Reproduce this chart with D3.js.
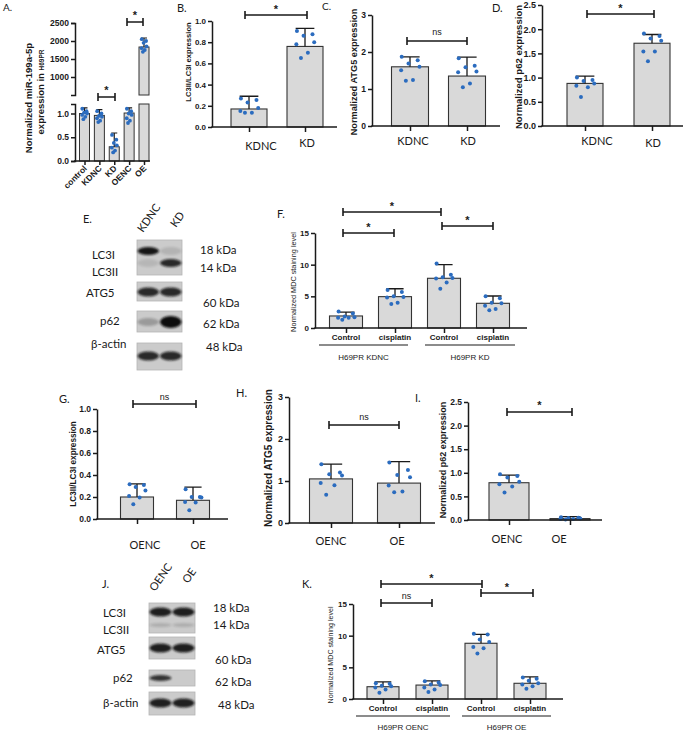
<!DOCTYPE html>
<html><head><meta charset="utf-8">
<script src="https://cdn.jsdelivr.net/npm/d3@7"></script>
<style>body{margin:0;background:#fff}svg{display:block}</style>
</head><body>
<svg id="fig" width="685" height="732"></svg>
<script>
// ---------------- DATA ----------------
// Panel A (broken axis)
const aCats = ["control","KDNC","KD","OENC","OE"];
const aMean = [1.00, 0.96, 0.30, 1.01, 1833];
const aSD = [0.12, 0.12, 0.29, 0.11, 250];
const aPts = [[1.10,1.05,1.02,1.00,0.97,0.93,0.88],[1.05,1.00,0.95,0.93,0.90,0.85,0.82],[0.55,0.45,0.38,0.33,0.28,0.22,0.18],[1.10,1.05,1.00,0.97,0.90,0.85,0.80],[2050,2000,1950,1850,1800,1750,1700]];
const aTicksLow = [0, 0.5, 1.0];
const aTicksHigh = [1000, 1500, 2000, 2500];
const aSig = ["*","*"];
// Panel B
const bCats = ["KDNC","KD"];
const bMean = [0.17, 0.76];
const bSD = [0.12, 0.17];
const bPts = [[0.27,0.255,0.23,0.18,0.15,0.135,0.135],[0.905,0.875,0.86,0.80,0.78,0.70,0.65]];
const bTicks = [0,0.2,0.4,0.6,0.8,1.0];
// Panel C
const cCats = ["KDNC","KD"];
const cMean = [1.60, 1.35];
const cSD = [0.27, 0.51];
const cPts = [[1.87,1.78,1.69,1.60,1.51,1.24,1.22],[1.83,1.63,1.59,1.47,1.45,1.15,1.05]];
const cTicks = [0,1,2,3];
// Panel D
const dCats = ["KDNC","KD"];
const dMean = [0.88, 1.71];
const dSD = [0.15, 0.18];
const dPts = [[1.00,0.95,0.93,0.88,0.83,0.80,0.60],[1.91,1.86,1.81,1.76,1.54,1.54,1.34]];
const dTicks = [0,0.5,1.0,1.5,2.0,2.5];
// Panel E (western blot band intensities, lanes KDNC / KD)
const eLanes = ["KDNC","KD"];
const eLC3I = [0.95, 0.12];
const eLC3II = [0.10, 0.85];
const eATG5 = [0.85, 0.85];
const eP62 = [0.25, 1.0];
const eActin = [0.85, 0.85];
const eRowLabels = ["LC3I","LC3II","ATG5","p62","β-actin"];
const eKda = ["18 kDa","14 kDa","60 kDa","62 kDa","48 kDa"];
// Panel F
const fCats = ["Control","cisplatin","Control","cisplatin"];
const fGroups = ["H69PR KDNC","H69PR KD"];
const fMean = [1.9, 4.95, 7.85, 3.9];
const fSD = [0.6, 1.25, 2.15, 1.15];
const fPts = [[2.6,2.3,1.8,1.7,1.6,1.6,1.3],[6.0,5.7,5.0,4.9,4.8,4.0,3.8],[10.2,8.4,8.0,7.9,7.8,7.2,6.2],[5.0,4.7,4.0,3.9,3.5,3.0,2.8]];
const fTicks = [0,5,10,15];
// Panel G
const gCats = ["OENC","OE"];
const gMean = [0.20, 0.17];
const gSD = [0.12, 0.12];
const gPts = [[0.315,0.31,0.29,0.26,0.21,0.195,0.135],[0.27,0.20,0.20,0.195,0.155,0.15,0.08]];
const gTicks = [0,0.2,0.4,0.6,0.8,1.0];
// Panel H
const hCats = ["OENC","OE"];
const hMean = [1.05, 0.95];
const hSD = [0.35, 0.51];
const hPts = [[1.40,1.20,1.16,1.13,0.95,0.90,0.67],[1.44,1.26,1.14,1.09,0.89,0.75,0.73]];
const hTicks = [0,1,2,3];
// Panel I
const iCats = ["OENC","OE"];
const iMean = [0.79, 0.03];
const iSD = [0.16, 0.04];
const iPts = [[0.97,0.93,0.90,0.81,0.76,0.71,0.58],[0.06,0.05,0.04,0.03,0.02,0.02,0.01]];
const iTicks = [0,0.5,1.0,1.5,2.0,2.5];
// Panel J (western blot, lanes OENC / OE)
const jLanes = ["OENC","OE"];
const jLC3I = [0.9, 0.9];
const jLC3II = [0.15, 0.15];
const jATG5 = [0.9, 0.9];
const jP62 = [0.8, 0.0];
const jActin = [0.9, 0.9];
// Panel K
const kCats = ["Control","cisplatin","Control","cisplatin"];
const kGroups = ["H69PR OENC","H69PR OE"];
const kMean = [1.94, 2.2, 8.8, 2.48];
const kSD = [0.76, 0.65, 1.4, 1.02];
const kPts = [[2.5,2.4,2.1,2.0,1.8,1.5,1.0],[2.8,2.6,2.3,2.2,1.8,1.5,1.1],[10.3,10.2,9.4,9.0,8.2,8.0,7.2],[3.4,3.2,2.9,2.5,2.3,2.0,1.6]];
const kTicks = [0,5,10,15];

// ---------------- STYLE ----------------
const ARIAL = "'Liberation Sans', Arial, sans-serif";
const CALI = "Lato, 'Open Sans', sans-serif";
const BAR_FILL = "#d9d9d9", BAR_STROKE = "#333", DOT = "#2b6cbf", INK = "#1a1a1a";
const JIT = [-0.28, 0.26, -0.05, 0.32, -0.3, 0.1, -0.14, 0.2];

const svg = d3.select("#fig");
const defs = svg.append("defs");
defs.append("filter").attr("id","blur").attr("x","-50%").attr("y","-80%").attr("width","200%").attr("height","260%")
  .append("feGaussianBlur").attr("stdDeviation", 1.3);

function txt(g, x, y, s, size, opt = {}) {
  return g.append("text").attr("x", x).attr("y", y).text(s)
    .attr("font-family", opt.family || ARIAL).attr("font-size", size)
    .attr("font-weight", opt.weight || "normal").attr("fill", opt.fill || INK)
    .attr("text-anchor", opt.anchor || "start");
}
function vlabel(g, x, cy, s, size, weight) {
  return g.append("text").attr("transform", `translate(${x},${cy}) rotate(-90)`)
    .attr("text-anchor", "middle").attr("font-family", ARIAL).attr("font-size", size)
    .attr("font-weight", weight).attr("fill", INK).text(s);
}
function bracket(g, x1, x2, y, label, ty) {
  g.append("path").attr("d", `M${x1},${y-4}V${y+4}M${x1},${y}H${x2}M${x2},${y-4}V${y+4}`)
    .attr("stroke", INK).attr("stroke-width", 1.6).attr("fill", "none");
  const star = label === "*";
  txt(g, (x1 + x2) / 2, ty, label, star ? 11 : 9, {anchor: "middle", weight: star ? "bold" : "normal"});
}
function styleAxis(sel, fs) {
  sel.selectAll("path,line").attr("stroke", INK).attr("stroke-width", 1.5);
  sel.selectAll("text").attr("font-family", ARIAL).attr("font-size", fs).attr("font-weight", "bold").attr("fill", INK);
}
function drawGroups(g, x, means, sds, pts, y, bw, y0) {
  g.selectAll(null).data(means).join("rect")
    .attr("x", (d, i) => x(i) - bw / 2).attr("y", d => y(d)).attr("width", bw)
    .attr("height", d => Math.max(0.5, y0 - y(d)))
    .attr("fill", BAR_FILL).attr("stroke", BAR_STROKE).attr("stroke-width", 1.1);
  const cw = bw * 0.26;
  means.forEach((m, i) => {
    const top = y(m + sds[i]);
    g.append("path").attr("d", `M${x(i)},${y(m)}V${top}M${x(i)-cw},${top}H${x(i)+cw}`)
      .attr("stroke", INK).attr("stroke-width", 1.3).attr("fill", "none");
  });
  pts.forEach((arr, i) => {
    g.selectAll(null).data(arr).join("circle")
      .attr("cx", (d, k) => x(i) + JIT[k % JIT.length] * bw * 0.8).attr("cy", d => y(d))
      .attr("r", 2).attr("fill", DOT);
  });
}

function barPanel(p) {
  const g = svg.append("g");
  const y = d3.scaleLinear().domain([0, p.ymax]).range([p.y0, p.y1]);
  const x = d3.scalePoint().domain(d3.range(p.cats.length)).range([p.c0, p.c1]);
  drawGroups(g, x, p.mean, p.sd, p.pts, y, p.bw, p.y0);
  const ya = g.append("g").attr("transform", `translate(${p.ax},0)`)
    .call(d3.axisLeft(y).tickValues(p.ticks).tickFormat(d3.format(p.fmt)).tickSize(4).tickSizeOuter(0).tickPadding(2));
  styleAxis(ya, p.tfs);
  const xa = g.append("g").attr("transform", `translate(0,${p.y0})`)
    .call(d3.axisBottom(x).tickSize(5).tickFormat(""));
  xa.select(".domain").remove();
  styleAxis(xa, p.tfs);
  g.append("line").attr("x1", p.ax - 0.75).attr("x2", p.xEnd).attr("y1", p.y0).attr("y2", p.y0)
    .attr("stroke", INK).attr("stroke-width", 1.6);
  if (p.labX) {
    p.cats.forEach((c, i) => txt(g, p.labX[i], p.labY[i], c, 11, {family: CALI, anchor: "middle"}));
  } else {
    p.cats.forEach((c, i) => txt(g, x(i), p.labY, c, 8, {anchor: "middle", weight: "bold"}));
    p.groups.forEach((gname, j) => {
      const [a, b] = p.gLines[j];
      g.append("line").attr("x1", a).attr("x2", b).attr("y1", p.gY).attr("y2", p.gY)
        .attr("stroke", INK).attr("stroke-width", 1.2);
      txt(g, (a + b) / 2, p.gTextY, gname, 8, {anchor: "middle"});
    });
  }
  vlabel(g, p.ylx, p.ylcy, p.ylab, p.ylfs, p.ylw);
  p.br.forEach(b => bracket(g, b[0], b[1], b[2], b[3], b[4]));
  txt(g, p.letter[1], p.letter[2], p.letter[0], p.letter[3] || 11, {family: CALI});
  return g;
}

// ---------------- PANEL A (broken y axis) ----------------
(function () {
  const g = svg.append("g");
  const yLo = d3.scaleLinear().domain([0, 1.2]).range([161, 104]);
  const yHi = d3.scaleLinear().domain([500, 2500]).range([95, 23]);
  const x = d3.scalePoint().domain(d3.range(aCats.length)).range([84.5, 144]);
  const bw = 10;
  const yv = v => (v > 1.2 ? yHi(v) : yLo(v));
  aMean.forEach((m, i) => {
    if (m <= 1.2) {
      g.append("rect").attr("x", x(i) - bw / 2).attr("y", yLo(m)).attr("width", bw).attr("height", 161 - yLo(m))
        .attr("fill", BAR_FILL).attr("stroke", BAR_STROKE).attr("stroke-width", 1);
    } else {
      g.append("rect").attr("x", x(i) - bw / 2).attr("y", yLo(1.2)).attr("width", bw).attr("height", 161 - yLo(1.2))
        .attr("fill", BAR_FILL).attr("stroke", BAR_STROKE).attr("stroke-width", 1);
      g.append("rect").attr("x", x(i) - bw / 2).attr("y", yHi(m)).attr("width", bw).attr("height", yHi(500) - yHi(m))
        .attr("fill", BAR_FILL).attr("stroke", BAR_STROKE).attr("stroke-width", 1);
    }
    const top = yv(m + aSD[i]);
    g.append("path").attr("d", `M${x(i)},${yv(m)}V${top}M${x(i)-3},${top}H${x(i)+3}`)
      .attr("stroke", INK).attr("stroke-width", 1.2).attr("fill", "none");
  });
  aPts.forEach((arr, i) => {
    g.selectAll(null).data(arr).join("circle")
      .attr("cx", (d, k) => x(i) + JIT[k] * bw * 0.8).attr("cy", d => yv(d)).attr("r", 1.9).attr("fill", DOT);
  });
  const lo = g.append("g").attr("transform", "translate(75,0)")
    .call(d3.axisLeft(yLo).tickValues(aTicksLow).tickFormat(d3.format(".1f")).tickSize(4).tickSizeOuter(4).tickPadding(2));
  styleAxis(lo, 8.5);
  const hi = g.append("g").attr("transform", "translate(75,0)")
    .call(d3.axisLeft(yHi).tickValues(aTicksHigh).tickFormat(d3.format("d")).tickSize(4).tickSizeOuter(4).tickPadding(2));
  styleAxis(hi, 8.5);
  const xa = g.append("g").attr("transform", "translate(0,161)").call(d3.axisBottom(x).tickSize(4).tickFormat(""));
  xa.select(".domain").remove();
  styleAxis(xa, 8);
  g.append("line").attr("x1", 74).attr("x2", 150).attr("y1", 161).attr("y2", 161).attr("stroke", INK).attr("stroke-width", 1.6);
  aCats.forEach((c, i) => {
    g.append("text").attr("transform", `translate(${x(i) + 3},${169}) rotate(-45)`).attr("text-anchor", "end")
      .attr("font-family", ARIAL).attr("font-size", 8.5).attr("font-weight", "bold").attr("fill", INK).text(c);
  });
  vlabel(g, 31.5, 98, "Normalized miR-199a-5p", 9.5, "bold");
  const t2 = g.append("text").attr("transform", "translate(43.5,92) rotate(-90)").attr("text-anchor", "middle")
    .attr("font-family", ARIAL).attr("font-size", 9.5).attr("font-weight", "bold").attr("fill", INK);
  t2.append("tspan").text("expression in ");
  t2.append("tspan").attr("font-size", 6.5).text("H69PR");
  bracket(g, 98, 115, 97, aSig[0], 94);
  bracket(g, 127, 143, 22, aSig[1], 19);
  txt(g, 3, 11, "A.", 10, {family: CALI});
})();

// ---------------- BAR PANELS ----------------
barPanel({cats: bCats, mean: bMean, sd: bSD, pts: bPts, ymax: 1, y0: 127, y1: 21, ax: 212, xEnd: 337,
  c0: 249, c1: 305, bw: 36, ticks: bTicks, fmt: ".1f", tfs: 8, labX: [261, 307], labY: [150, 147],
  ylab: "LC3II/LC3I expression", ylx: 191, ylcy: 62, ylfs: 7.6, ylw: "bold",
  br: [[245, 307, 15, "*", 13]], letter: ["B.", 177, 12]});

barPanel({cats: cCats, mean: cMean, sd: cSD, pts: cPts, ymax: 3, y0: 126, y1: 15, ax: 372, xEnd: 500,
  c0: 410, c1: 467, bw: 37, ticks: cTicks, fmt: "d", tfs: 8.5, labX: [413, 468], labY: [145, 145],
  ylab: "Normalized ATG5 expression", ylx: 356.5, ylcy: 72, ylfs: 9.2, ylw: "bold",
  br: [[407, 467, 41, "ns", 35]], letter: ["C.", 322, 10, 10]});

barPanel({cats: dCats, mean: dMean, sd: dSD, pts: dPts, ymax: 2.5, y0: 126, y1: 5, ax: 542, xEnd: 683,
  c0: 585, c1: 652, bw: 36, ticks: dTicks, fmt: ".1f", tfs: 9, labX: [597, 653], labY: [145, 147],
  ylab: "Normalized p62 expression", ylx: 521.5, ylcy: 67, ylfs: 9.6, ylw: "bold",
  br: [[587, 654, 14, "*", 12]], letter: ["D.", 492, 12]});

barPanel({cats: fCats, groups: fGroups, mean: fMean, sd: fSD, pts: fPts, ymax: 15, y0: 328, y1: 233, ax: 315, xEnd: 527,
  c0: 346, c1: 493, bw: 33, ticks: fTicks, fmt: "d", tfs: 8, labY: 340, gY: 345, gTextY: 360,
  gLines: [[319, 408], [425, 515]],
  ylab: "Normalized MDC staining level", ylx: 295.5, ylcy: 282, ylfs: 7.3, ylw: "normal",
  br: [[343, 441, 212, "*", 210], [343, 394, 233, "*", 231], [442, 493, 226, "*", 224]], letter: ["F.", 277, 218]});

barPanel({cats: gCats, mean: gMean, sd: gSD, pts: gPts, ymax: 1, y0: 519, y1: 409, ax: 97, xEnd: 228,
  c0: 137, c1: 193, bw: 33, ticks: gTicks, fmt: ".1f", tfs: 8.5, labX: [145, 198], labY: [549, 549],
  ylab: "LC3II/LC3I expression", ylx: 76, ylcy: 464, ylfs: 8.2, ylw: "bold",
  br: [[133, 196, 404, "ns", 400]], letter: ["G.", 59, 403]});

barPanel({cats: hCats, mean: hMean, sd: hSD, pts: hPts, ymax: 3, y0: 523, y1: 397, ax: 289, xEnd: 435,
  c0: 331, c1: 399, bw: 43, ticks: hTicks, fmt: "d", tfs: 9, labX: [331, 397], labY: [545, 545],
  ylab: "Normalized ATG5 expression", ylx: 271.5, ylcy: 458, ylfs: 10, ylw: "bold",
  br: [[329, 399, 425, "ns", 420]], letter: ["H.", 236, 397]});

barPanel({cats: iCats, mean: iMean, sd: iSD, pts: iPts, ymax: 2.5, y0: 520, y1: 402, ax: 468, xEnd: 602,
  c0: 509, c1: 570, bw: 40, ticks: iTicks, fmt: ".1f", tfs: 8.5, labX: [507, 559], labY: [543, 543],
  ylab: "Normalized p62 expression", ylx: 445.5, ylcy: 460, ylfs: 9, ylw: "bold",
  br: [[507, 572, 412, "*", 409]], letter: ["I.", 415, 402]});

barPanel({cats: kCats, groups: kGroups, mean: kMean, sd: kSD, pts: kPts, ymax: 15, y0: 699, y1: 604, ax: 353, xEnd: 563,
  c0: 383, c1: 530, bw: 32, ticks: kTicks, fmt: "d", tfs: 8, labY: 711, gY: 716, gTextY: 730,
  gLines: [[356, 450], [462, 551]],
  ylab: "Normalized MDC staining level", ylx: 332.5, ylcy: 655, ylfs: 7.1, ylw: "normal",
  br: [[381, 482, 584, "*", 582], [381, 432, 603, "ns", 599], [481, 533, 593, "*", 591]], letter: ["K.", 302, 588]});

// ---------------- BLOTS ----------------
function blot(b) {
  const g = svg.append("g");
  const lx = d3.scalePoint().domain(d3.range(b.lanes.length)).range([b.x + b.w * 0.25, b.x + b.w * 0.75]);
  b.boxes.forEach(bx => {
    g.append("rect").attr("x", b.x).attr("y", bx.y).attr("width", b.w).attr("height", bx.h)
      .attr("fill", "#cbcbcb").attr("stroke", "#b5b5b5").attr("stroke-width", 0.8);
    bx.bands.forEach(bd => {
      bd.vals.forEach((v, i) => {
        if (v <= 0.02) return;
        g.append("ellipse").attr("cx", lx(i)).attr("cy", bd.cy).attr("rx", b.w * 0.24)
          .attr("ry", bd.ry * (bd.grow ? (0.6 + 0.5 * v) : 1)).attr("fill", "#111").attr("opacity", v)
          .attr("filter", "url(#blur)");
      });
    });
  });
  b.lanes.forEach((l, i) => {
    g.append("text").attr("transform", `translate(${b.laneXY[i][0]},${b.laneXY[i][1]}) rotate(-55)`)
      .attr("font-family", CALI).attr("font-size", 11).attr("fill", INK).text(l);
  });
  b.rowLab.forEach((r, i) => txt(g, r[0], r[1], eRowLabels[i], 11.5, {family: CALI}));
  b.kdaLab.forEach((r, i) => txt(g, r[0], r[1], eKda[i], 11.5, {family: CALI}));
  txt(g, b.letter[1], b.letter[2], b.letter[0], 11, {family: CALI});
}

blot({x: 137, w: 45, lanes: eLanes, laneXY: [[143, 233], [176, 228]],
  boxes: [
    {y: 240, h: 35, bands: [{cy: 251, ry: 4, vals: eLC3I}, {cy: 263, ry: 4, vals: eLC3II}]},
    {y: 282, h: 19, bands: [{cy: 292, ry: 4.5, vals: eATG5}]},
    {y: 311, h: 21, bands: [{cy: 322, ry: 5.5, vals: eP62, grow: true}]},
    {y: 343, h: 27, bands: [{cy: 356, ry: 4.5, vals: eActin}]}],
  rowLab: [[92, 259], [92, 276], [86, 297], [100, 325], [91, 348]],
  kdaLab: [[200, 254], [200, 272], [203, 307], [203, 328], [206, 351]],
  letter: ["E.", 83, 223]});

blot({x: 149, w: 46, lanes: jLanes, laneXY: [[155, 592], [188, 584]],
  boxes: [
    {y: 603, h: 30, bands: [{cy: 612, ry: 4.5, vals: jLC3I}, {cy: 625, ry: 2, vals: jLC3II}]},
    {y: 637, h: 22, bands: [{cy: 648, ry: 4.5, vals: jATG5}]},
    {y: 670, h: 16, bands: [{cy: 678, ry: 3, vals: jP62}]},
    {y: 692, h: 23, bands: [{cy: 703, ry: 4.5, vals: jActin}]}],
  rowLab: [[103, 617], [103, 634], [97, 654], [113, 682], [103, 707]],
  kdaLab: [[213, 612], [213, 629], [215, 664], [215, 686], [218, 709]],
  letter: ["J.", 102, 588]});
</script>
</body></html>
